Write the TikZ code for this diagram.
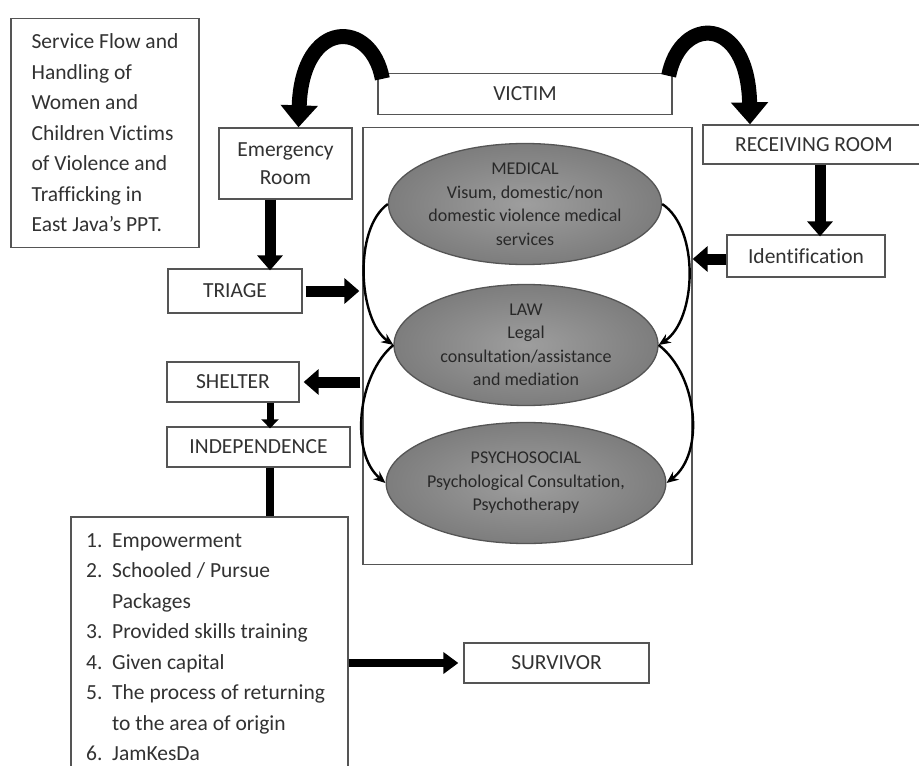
\documentclass[tikz,border=0pt]{standalone}
\usepackage{fontspec}
\setmainfont{Carlito}[Ligatures=NoCommon]
\usetikzlibrary{arrows.meta,shapes.geometric}
\definecolor{boxline}{RGB}{85,85,85}
\definecolor{txt}{RGB}{50,50,50}
\definecolor{ellin}{RGB}{158,158,158}
\definecolor{ellout}{RGB}{125,125,125}
\begin{document}
\begin{tikzpicture}[x=1pt,y=-1pt,
  box/.style={draw=boxline,line width=1.3pt,fill=white,text=txt,inner sep=0pt,
    font=\fontsize{21.5}{28}\selectfont,align=center},
  oval/.style={ellipse,draw=boxline,line width=1.3pt,inner sep=0pt,
    minimum width=264pt,minimum height=121pt,text=txt!80!black,
    font=\fontsize{18}{23.5}\selectfont,align=center,
    shade,shading=radial,inner color=ellin,outer color=ellout},
  fat/.style={line width=11pt,-{Triangle[length=15pt,width=25pt]}},
  slim/.style={line width=7pt,-{Triangle[length=9pt,width=17pt]}},
  arcarrow/.style={line width=15pt,-{Triangle[length=22pt,width=36pt]}},
  thinarr/.style={line width=2.4pt,-{Stealth[length=12pt,width=10pt]}},
  listtext/.style={text=txt,inner sep=0pt,align=left,font=\fontsize{21.5}{30.5}\selectfont}
]
\fill[white] (0,0) rectangle (919,766);
\useasboundingbox (0,0) rectangle (919,766);

% boxes
\node[box,minimum width=188pt,minimum height=229pt,align=left,
  font=\fontsize{21.5}{30.5}\selectfont] (title) at (105,133)
  {Service Flow and\\Handling of\\Women and\\Children Victims\\of Violence and\\Trafficking in\\East Java’s PPT.};
\node[box,minimum width=294pt,minimum height=41pt] (victim) at (525,94) {VICTIM};
\node[box,minimum width=133pt,minimum height=71pt] (emerg) at (285.5,163.5) {Emergency\\Room};
\node[box,minimum width=134pt,minimum height=44pt] (triage) at (235,291) {TRIAGE};
\node[box,minimum width=329pt,minimum height=437pt] (core) at (527.5,346) {};
\node[box,minimum width=222pt,minimum height=39pt] (recv) at (814,144.5) {RECEIVING ROOM};
\node[box,minimum width=158pt,minimum height=42pt] (ident) at (806,256) {Identification};
\node[box,minimum width=132pt,minimum height=40pt] (shelter) at (233,382) {SHELTER};
\node[box,minimum width=183pt,minimum height=40pt] (indep) at (258.5,447) {INDEPENDENCE};
\node[box,minimum width=277pt,minimum height=263pt] (list) at (209.5,648.5) {};
\node[box,minimum width=185pt,minimum height=40pt] (surv) at (556.5,663) {SURVIVOR};

\node[listtext,anchor=north west] (ltext) at (86,525.6)
  {\strut\makebox[26pt][l]{1.}Empowerment\\
   \makebox[26pt][l]{2.}Schooled / Pursue\\
   \hspace*{26pt}Packages\\
   \makebox[26pt][l]{3.}Provided skills training\\
   \makebox[26pt][l]{4.}Given capital\\
   \makebox[26pt][l]{5.}The process of returning\\
   \hspace*{26pt}to the area of origin\\
   \makebox[26pt][l]{6.}JamKesDa};

% ellipses
\node[oval] (med) at (525,204) {MEDICAL\\Visum, domestic/non\\domestic violence medical\\services};
\node[oval] (law) at (526,345) {LAW\\Legal\\consultation/assistance\\and mediation};
\node[oval] (psy) at (526,483) {PSYCHOSOCIAL\\Psychological Consultation,\\Psychotherapy};

% thin curved arrows
\draw[thinarr] (med.west) .. controls +(-35,25) and +(-35,-25) .. (law.west);
\draw[thinarr] (med.east) .. controls +(38,25) and +(38,-25) .. (law.east);
\draw[thinarr] (law.west) .. controls +(-36,30) and +(-36,-30) .. (psy.west);
\draw[thinarr] (law.east) .. controls +(39,30) and +(39,-30) .. (psy.east);

% top curved arrows
\draw[arcarrow] ([shift={(5,6)}]victim.north west) .. controls +(-11,-60) and (302,18) .. ([xshift=13pt]emerg.north);
\draw[arcarrow] ([shift={(-4,3)}]victim.north east) .. controls +(12,-61) and (748,15) .. ([xshift=-64pt]recv.north);

% fat arrows
\draw[fat] ([xshift=-15.5pt]emerg.south) -- ([xshift=-15.5pt,yshift=-2pt]emerg.south |- triage.north);
\draw[fat] ([xshift=3pt]triage.east) -- ([xshift=-3pt]core.west |- triage.east);
\draw[fat] ([xshift=6pt]recv.south) -- ([xshift=6pt,yshift=-2pt]recv.south |- ident.north);
\draw[fat] ([yshift=-3pt]ident.west) -- ([yshift=-3pt]core.east |- ident.west);
\draw[fat] ([xshift=-2pt]core.west |- shelter.east) -- ([xshift=4pt]shelter.east);
\draw[slim] ([xshift=37pt]shelter.south) -- ([xshift=37pt,yshift=-2pt]shelter.south |- indep.north);
\draw[line width=7.5pt] ([xshift=11.5pt]indep.south) -- ([xshift=11.5pt]indep.south |- list.north);
\draw[line width=8pt,-{Triangle[length=15pt,width=21pt]}] (list.east |- surv.west) -- ([xshift=-5pt]surv.west);
\end{tikzpicture}
\end{document}
